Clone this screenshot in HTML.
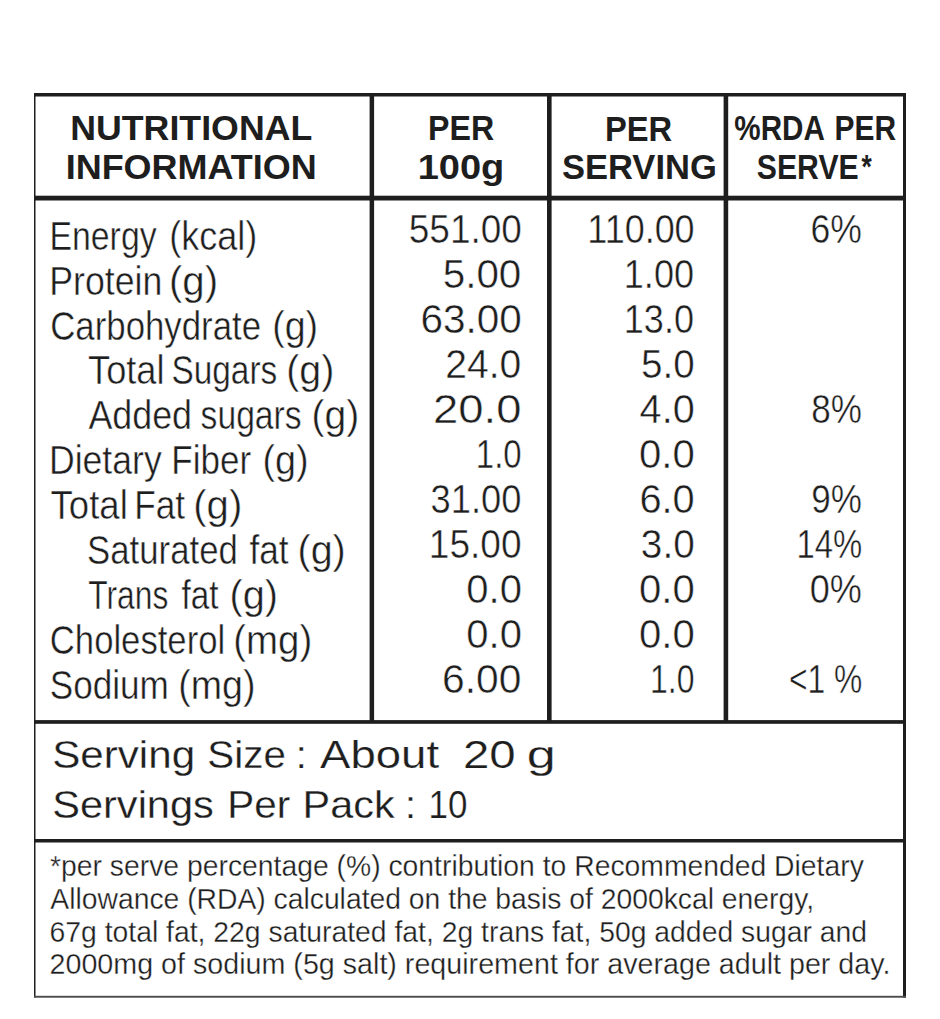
<!DOCTYPE html>
<html><head><meta charset="utf-8"><title>Nutritional Information</title>
<style>
html,body{margin:0;padding:0;background:#fff;width:940px;height:1019px;overflow:hidden}
svg{display:block}
text{font-family:"Liberation Sans",sans-serif;fill:#1e1e1e}
rect{fill:#1e1e1e}
</style></head><body>
<svg width="940" height="1019" viewBox="0 0 940 1019">
<rect x="34" y="93" width="872" height="3.5"/><rect x="34" y="93" width="1.5" height="904.5"/><rect x="903" y="93" width="3" height="904.5"/><rect x="34" y="995.8" width="872" height="1.9" style="fill:#4a4a4a"/><rect x="34" y="195.7" width="872" height="4.8"/><rect x="34" y="720.1" width="872" height="3.7"/><rect x="34" y="839" width="872" height="3.5"/><rect x="369.6" y="93" width="4.5" height="630"/><rect x="547.0" y="93" width="4.6" height="630"/><rect x="723.6" y="93" width="4.6" height="630"/>
<text transform="translate(70.17 140.30) scale(1.0127 1)" font-size="35.3" font-weight="bold">NUTRITIONAL</text>
<text transform="translate(65.66 179.40) scale(1.0194 1)" font-size="35.3" font-weight="bold">INFORMATION</text>
<text transform="translate(428.08 140.40) scale(0.9114 1)" font-size="35.3" font-weight="bold">PER</text>
<text transform="translate(417.64 178.90) scale(1.0776 1)" font-size="35.3" font-weight="bold">100g</text>
<text transform="translate(604.95 140.50) scale(0.9271 1)" font-size="35.3" font-weight="bold">PER</text>
<text transform="translate(561.92 179.10) scale(0.9794 1)" font-size="35.3" font-weight="bold">SERVING</text>
<text transform="translate(734.36 140.00) scale(0.8396 1)" font-size="35.3" font-weight="bold">%RDA</text>
<text transform="translate(834.50 140.00) scale(0.8486 1)" font-size="35.3" font-weight="bold">PER</text>
<text transform="translate(756.84 179.20) scale(0.8556 1)" font-size="35.3" font-weight="bold">SERVE</text>
<text transform="translate(861.40 177.60) scale(0.8000 1)" font-size="33.0" font-weight="bold">*</text>
<text transform="translate(49.44 249.60) scale(0.8211 1)" font-size="41.2" font-weight="normal" stroke="#fff" stroke-width="0.45">Energy</text>
<text transform="translate(169.15 249.60) scale(0.8750 1)" font-size="41.2" font-weight="normal" stroke="#fff" stroke-width="0.45">(kcal)</text>
<text transform="translate(49.30 294.55) scale(0.8664 1)" font-size="41.2" font-weight="normal" stroke="#fff" stroke-width="0.45">Protein</text>
<text transform="translate(168.95 294.55) scale(0.9761 1)" font-size="41.2" font-weight="normal" stroke="#fff" stroke-width="0.45">(g)</text>
<text transform="translate(50.21 339.50) scale(0.8451 1)" font-size="41.2" font-weight="normal" stroke="#fff" stroke-width="0.45">Carbohydrate</text>
<text transform="translate(272.17 339.50) scale(0.9130 1)" font-size="41.2" font-weight="normal" stroke="#fff" stroke-width="0.45">(g)</text>
<text transform="translate(88.02 384.45) scale(0.8795 1)" font-size="41.2" font-weight="normal" stroke="#fff" stroke-width="0.45">Total</text>
<text transform="translate(171.48 384.45) scale(0.8102 1)" font-size="41.2" font-weight="normal" stroke="#fff" stroke-width="0.45">Sugars</text>
<text transform="translate(286.19 384.45) scale(0.9543 1)" font-size="41.2" font-weight="normal" stroke="#fff" stroke-width="0.45">(g)</text>
<text transform="translate(88.40 429.40) scale(0.8701 1)" font-size="41.2" font-weight="normal" stroke="#fff" stroke-width="0.45">Added</text>
<text transform="translate(200.58 429.40) scale(0.8174 1)" font-size="41.2" font-weight="normal" stroke="#fff" stroke-width="0.45">sugars</text>
<text transform="translate(311.50 429.40) scale(0.9478 1)" font-size="41.2" font-weight="normal" stroke="#fff" stroke-width="0.45">(g)</text>
<text transform="translate(48.91 474.35) scale(0.8646 1)" font-size="41.2" font-weight="normal" stroke="#fff" stroke-width="0.45">Dietary</text>
<text transform="translate(171.35 474.35) scale(0.8500 1)" font-size="41.2" font-weight="normal" stroke="#fff" stroke-width="0.45">Fiber</text>
<text transform="translate(262.47 474.35) scale(0.9174 1)" font-size="41.2" font-weight="normal" stroke="#fff" stroke-width="0.45">(g)</text>
<text transform="translate(50.61 519.30) scale(0.8867 1)" font-size="41.2" font-weight="normal" stroke="#fff" stroke-width="0.45">Total</text>
<text transform="translate(134.23 519.30) scale(0.8554 1)" font-size="41.2" font-weight="normal" stroke="#fff" stroke-width="0.45">Fat</text>
<text transform="translate(193.25 519.30) scale(0.9739 1)" font-size="41.2" font-weight="normal" stroke="#fff" stroke-width="0.45">(g)</text>
<text transform="translate(87.11 564.25) scale(0.8437 1)" font-size="41.2" font-weight="normal" stroke="#fff" stroke-width="0.45">Saturated</text>
<text transform="translate(249.40 564.25) scale(0.8543 1)" font-size="41.2" font-weight="normal" stroke="#fff" stroke-width="0.45">fat</text>
<text transform="translate(297.48 564.25) scale(0.9587 1)" font-size="41.2" font-weight="normal" stroke="#fff" stroke-width="0.45">(g)</text>
<text transform="translate(88.33 609.20) scale(0.7706 1)" font-size="41.2" font-weight="normal" stroke="#fff" stroke-width="0.45">Trans</text>
<text transform="translate(181.40 609.20) scale(0.8087 1)" font-size="41.2" font-weight="normal" stroke="#fff" stroke-width="0.45">fat</text>
<text transform="translate(229.47 609.20) scale(0.9630 1)" font-size="41.2" font-weight="normal" stroke="#fff" stroke-width="0.45">(g)</text>
<text transform="translate(49.82 654.15) scale(0.8417 1)" font-size="41.2" font-weight="normal" stroke="#fff" stroke-width="0.45">Cholesterol</text>
<text transform="translate(233.23 654.15) scale(0.9325 1)" font-size="41.2" font-weight="normal" stroke="#fff" stroke-width="0.45">(mg)</text>
<text transform="translate(49.79 699.10) scale(0.8526 1)" font-size="41.2" font-weight="normal" stroke="#fff" stroke-width="0.45">Sodium</text>
<text transform="translate(178.18 699.10) scale(0.9125 1)" font-size="41.2" font-weight="normal" stroke="#fff" stroke-width="0.45">(mg)</text>
<text transform="translate(408.76 243.00) scale(0.9202 1)" font-size="40.2" font-weight="normal" stroke="#fff" stroke-width="0.45">551.00</text>
<text transform="translate(442.69 287.95) scale(1.0053 1)" font-size="40.2" font-weight="normal" stroke="#fff" stroke-width="0.45">5.00</text>
<text transform="translate(420.39 332.90) scale(1.0072 1)" font-size="40.2" font-weight="normal" stroke="#fff" stroke-width="0.45">63.00</text>
<text transform="translate(445.15 377.85) scale(0.9733 1)" font-size="40.2" font-weight="normal" stroke="#fff" stroke-width="0.45">24.0</text>
<text transform="translate(433.04 422.80) scale(1.1307 1)" font-size="40.2" font-weight="normal" stroke="#fff" stroke-width="0.45">20.0</text>
<text transform="translate(475.84 467.75) scale(0.8196 1)" font-size="40.2" font-weight="normal" stroke="#fff" stroke-width="0.45">1.0</text>
<text transform="translate(430.59 512.70) scale(0.9041 1)" font-size="40.2" font-weight="normal" stroke="#fff" stroke-width="0.45">31.00</text>
<text transform="translate(428.83 557.65) scale(0.9219 1)" font-size="40.2" font-weight="normal" stroke="#fff" stroke-width="0.45">15.00</text>
<text transform="translate(466.30 602.60) scale(0.9962 1)" font-size="40.2" font-weight="normal" stroke="#fff" stroke-width="0.45">0.0</text>
<text transform="translate(466.30 647.55) scale(0.9962 1)" font-size="40.2" font-weight="normal" stroke="#fff" stroke-width="0.45">0.0</text>
<text transform="translate(441.97 692.50) scale(1.0147 1)" font-size="40.2" font-weight="normal" stroke="#fff" stroke-width="0.45">6.00</text>
<text transform="translate(587.32 243.00) scale(0.8948 1)" font-size="40.2" font-weight="normal" stroke="#fff" stroke-width="0.45">110.00</text>
<text transform="translate(623.81 287.95) scale(0.8973 1)" font-size="40.2" font-weight="normal" stroke="#fff" stroke-width="0.45">1.00</text>
<text transform="translate(623.81 332.90) scale(0.8973 1)" font-size="40.2" font-weight="normal" stroke="#fff" stroke-width="0.45">13.0</text>
<text transform="translate(641.08 377.85) scale(0.9596 1)" font-size="40.2" font-weight="normal" stroke="#fff" stroke-width="0.45">5.0</text>
<text transform="translate(639.61 422.80) scale(0.9868 1)" font-size="40.2" font-weight="normal" stroke="#fff" stroke-width="0.45">4.0</text>
<text transform="translate(639.00 467.75) scale(0.9981 1)" font-size="40.2" font-weight="normal" stroke="#fff" stroke-width="0.45">0.0</text>
<text transform="translate(639.42 512.70) scale(0.9904 1)" font-size="40.2" font-weight="normal" stroke="#fff" stroke-width="0.45">6.0</text>
<text transform="translate(640.87 557.65) scale(0.9635 1)" font-size="40.2" font-weight="normal" stroke="#fff" stroke-width="0.45">3.0</text>
<text transform="translate(639.00 602.60) scale(0.9981 1)" font-size="40.2" font-weight="normal" stroke="#fff" stroke-width="0.45">0.0</text>
<text transform="translate(639.00 647.55) scale(0.9981 1)" font-size="40.2" font-weight="normal" stroke="#fff" stroke-width="0.45">0.0</text>
<text transform="translate(650.02 692.50) scale(0.7941 1)" font-size="40.2" font-weight="normal" stroke="#fff" stroke-width="0.45">1.0</text>
<text transform="translate(810.53 243.00) scale(0.8855 1)" font-size="40.2" font-weight="normal" stroke="#fff" stroke-width="0.45">6%</text>
<text transform="translate(811.25 422.80) scale(0.8727 1)" font-size="40.2" font-weight="normal" stroke="#fff" stroke-width="0.45">8%</text>
<text transform="translate(811.25 512.70) scale(0.8727 1)" font-size="40.2" font-weight="normal" stroke="#fff" stroke-width="0.45">9%</text>
<text transform="translate(796.45 557.65) scale(0.8171 1)" font-size="40.2" font-weight="normal" stroke="#fff" stroke-width="0.45">14%</text>
<text transform="translate(809.80 602.60) scale(0.8982 1)" font-size="40.2" font-weight="normal" stroke="#fff" stroke-width="0.45">0%</text>
<text transform="translate(789.02 692.50) scale(0.7910 1)" font-size="40.2" font-weight="normal" stroke="#fff" stroke-width="0.45">&lt;1 %</text>
<text transform="translate(52.16 768.20) scale(1.0677 1)" font-size="39.5" font-weight="normal" stroke="#fff" stroke-width="0.25">Serving</text>
<text transform="translate(207.36 768.20) scale(1.0219 1)" font-size="39.5" font-weight="normal" stroke="#fff" stroke-width="0.25">Size</text>
<text transform="translate(295.80 768.20) scale(1.0000 1)" font-size="39.5" font-weight="normal" stroke="#fff" stroke-width="0.25">:</text>
<text transform="translate(320.10 768.20) scale(1.1524 1)" font-size="39.5" font-weight="normal" stroke="#fff" stroke-width="0.25">About</text>
<text transform="translate(462.90 768.20) scale(1.2000 1)" font-size="39.5" font-weight="normal" stroke="#fff" stroke-width="0.25">20</text>
<text transform="translate(526.76 768.20) scale(1.3222 1)" font-size="39.5" font-weight="normal" stroke="#fff" stroke-width="0.25">g</text>
<text transform="translate(52.20 818.20) scale(1.0523 1)" font-size="39.5" font-weight="normal" stroke="#fff" stroke-width="0.25">Servings</text>
<text transform="translate(227.33 818.20) scale(1.0241 1)" font-size="39.5" font-weight="normal" stroke="#fff" stroke-width="0.25">Per</text>
<text transform="translate(302.56 818.20) scale(1.0482 1)" font-size="39.5" font-weight="normal" stroke="#fff" stroke-width="0.25">Pack</text>
<text transform="translate(405.05 818.20) scale(1.0000 1)" font-size="39.5" font-weight="normal" stroke="#fff" stroke-width="0.25">:</text>
<text transform="translate(428.54 818.20) scale(0.8850 1)" font-size="39.5" font-weight="normal" stroke="#fff" stroke-width="0.25">10</text>
<text transform="translate(50.02 875.90) scale(0.9769 1)" font-size="29.0" font-weight="normal" stroke="#fff" stroke-width="0.3">*per serve percentage (%) contribution to Recommended Dietary</text>
<text transform="translate(50.30 908.90) scale(0.9762 1)" font-size="29.0" font-weight="normal" stroke="#fff" stroke-width="0.3">Allowance (RDA) calculated on the basis of 2000kcal energy,</text>
<text transform="translate(49.52 941.60) scale(0.9778 1)" font-size="29.0" font-weight="normal" stroke="#fff" stroke-width="0.3">67g total fat, 22g saturated fat, 2g trans fat, 50g added sugar and</text>
<text transform="translate(49.51 974.10) scale(0.9891 1)" font-size="29.0" font-weight="normal" stroke="#fff" stroke-width="0.3">2000mg of sodium (5g salt) requirement for average adult per day.</text>
</svg>
</body></html>
